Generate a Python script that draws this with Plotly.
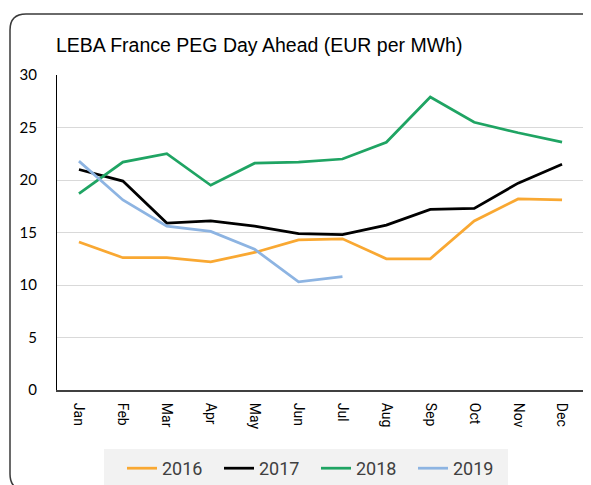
import plotly.graph_objects as go

months = ["Jan", "Feb", "Mar", "Apr", "May", "Jun", "Jul", "Aug", "Sep", "Oct", "Nov", "Dec"]
y2016 = [14.1, 12.6, 12.6, 12.2, 13.1, 14.3, 14.4, 12.5, 12.5, 16.1, 18.2, 18.1]
y2017 = [21.0, 19.9, 15.9, 16.1, 15.6, 14.9, 14.8, 15.7, 17.2, 17.3, 19.7, 21.5]
y2018 = [18.7, 21.7, 22.5, 19.5, 21.6, 21.7, 22.0, 23.6, 27.9, 25.5, 24.5, 23.6]
y2019 = [21.8, 18.1, 15.6, 15.1, 13.4, 10.3, 10.8]
series_names = ["2016", "2017", "2018", "2019"]
colors = ["#F9A832", "#000000", "#1FA463", "#8DB4E2"]

OFF = 8  # browser body margin
W, H = 591 - OFF, 485 - OFF
# reference pixel layout (page coords)
PL, PR, PT, PB = 57, 584, 75, 390
L, T = PL - OFF, PT - OFF
R, B = W - (PR - OFF), H - (PB - OFF)
pw, ph = PR - PL, PB - PT


def px_to_paper(x, y):
    return (x - PL) / pw, (PB - y) / ph


fig = go.Figure()
for name, ys, c in zip(series_names, [y2016, y2017, y2018, y2019], colors):
    fig.add_trace(go.Scatter(x=months[:len(ys)], y=ys, mode="lines", name=name,
                             line=dict(color=c, width=2.75)))

# rounded border path (page px -> paper)
x0, y0, x1, y1, r = 10, 14, 600, 490, 16
pts = [
    ("M", [(x0, y1 - r)]),
    ("L", [(x0, y0 + r)]),
    ("Q", [(x0, y0), (x0 + r, y0)]),
    ("L", [(x1 - r, y0)]),
    ("Q", [(x1, y0), (x1, y0 + r)]),
    ("L", [(x1, y1 - r)]),
    ("Q", [(x1, y1), (x1 - r, y1)]),
    ("L", [(x0 + r, y1)]),
    ("Q", [(x0, y1), (x0, y1 - r)]),
]
path = ""
for cmd, ps in pts:
    path += cmd + " ".join("%.5f,%.5f" % px_to_paper(a, b) for a, b in ps) + " "
path += "Z"
fig.add_shape(type="path", path=path, xref="paper", yref="paper",
              line=dict(color="#3a3a3a", width=1.5), fillcolor="rgba(0,0,0,0)", layer="above")

# legend background box
lx0, ly0 = px_to_paper(104, 449)
lx1, ly1 = px_to_paper(508, 495)
fig.add_shape(type="rect", xref="paper", yref="paper", x0=lx0, y0=ly1, x1=lx1, y1=ly0,
              line=dict(width=0), fillcolor="#F2F2F2", layer="below")

fig.update_layout(
    width=W, height=H,
    margin=dict(l=L, r=R, t=T, b=B, autoexpand=False),
    paper_bgcolor="white", plot_bgcolor="white",
    title=dict(text="LEBA France PEG Day Ahead (EUR per MWh)", xref="container", yref="container",
               x=(56 - OFF) / W, xanchor="left", y=1 - (45 - OFF) / H, yanchor="middle",
               font=dict(family="Liberation Sans", size=19.5, color="#000000")),
    showlegend=True,
    legend=dict(orientation="h", xref="paper", yref="paper",
                x=px_to_paper(122, 0)[0], xanchor="left", y=px_to_paper(0, 450)[1], yanchor="top",
                bgcolor="rgba(0,0,0,0)", font=dict(family="Roboto", size=18, color="#404040"),
                entrywidth=52, entrywidthmode="pixels", itemwidth=30),
    xaxis=dict(type="category", range=[-0.5, 11.5], showgrid=False, showline=True,
               linecolor="#404040", linewidth=2, ticks="", tickangle=90,
               tickfont=dict(family="Roboto", size=14, color="#000000"),
               ticklabelstandoff=8, zeroline=False, automargin=False),
    yaxis=dict(range=[0, 30], dtick=5, showgrid=True, gridcolor="#D9D9D9", gridwidth=1,
               showline=True, linecolor="#000000", linewidth=1, ticks="",
               tickfont=dict(family="Lato", size=15, color="#000000"),
               ticklabelstandoff=16, zeroline=False, automargin=False),
)

fig.write_html("out.html")
